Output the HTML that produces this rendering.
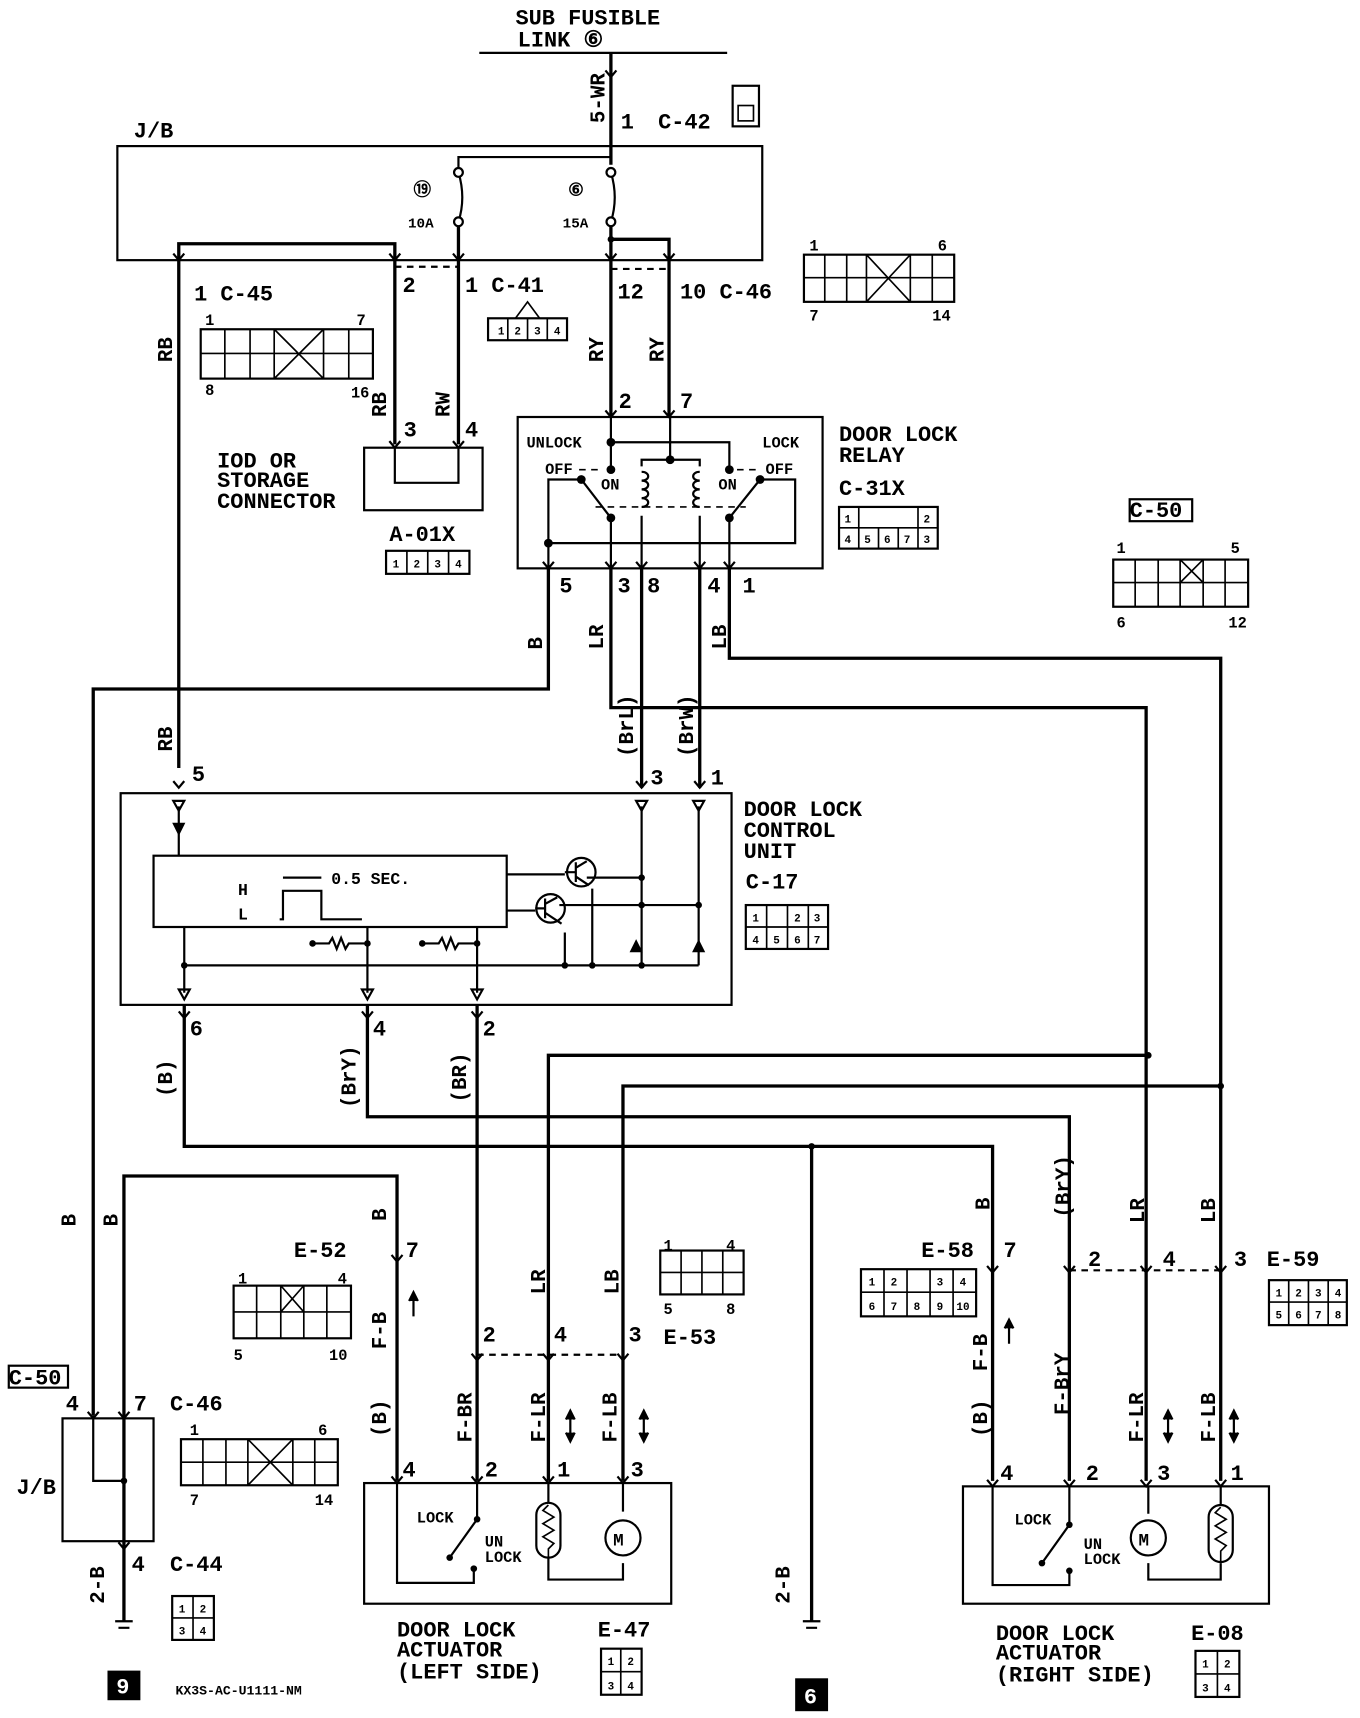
<!DOCTYPE html>
<html><head><meta charset="utf-8"><style>
html,body{margin:0;padding:0;background:#fff}
svg{display:block}
text{font-family:"Liberation Mono",monospace;font-weight:bold;fill:#000}
</style></head><body>
<svg width="1360" height="1718" viewBox="0 0 1240 1566" xmlns="http://www.w3.org/2000/svg">
<defs>
<g id="ar"><path d="M-5,-6 L0,0 L5,-6" fill="none" stroke="#000" stroke-width="2"/></g>
<g id="tri"><path d="M-5,-5 L5,-5 L0,4 Z" fill="none" stroke="#000" stroke-width="2"/></g>
</defs>
<g fill="none" stroke="#000" stroke-width="3">
<line x1="437" y1="48" x2="663" y2="48" stroke-width="2"/>
<line x1="557" y1="48" x2="557" y2="150"/>
<rect x="107" y="133" width="588" height="104" stroke-width="2"/>
<path d="M418,157 L418,143 L557,143" stroke-width="2"/>
<path d="M418,157 Q425,180 418,202 M557,157 Q564,180 557,202" stroke-width="2"/>
<circle cx="418" cy="157" r="4" fill="#fff" stroke-width="2"/><circle cx="418" cy="202" r="4" fill="#fff" stroke-width="2"/>
<circle cx="557" cy="157" r="4" fill="#fff" stroke-width="2"/><circle cx="557" cy="202" r="4" fill="#fff" stroke-width="2"/>
<path d="M557,206 L557,380 M557,218 L610,218 L610,380" />
<path d="M163,700 L163,222 L360,222 L360,405" />
<path d="M418,206 L418,405" />
<line x1="360" y1="243" x2="418" y2="243" stroke-dasharray="6,5" stroke-width="2"/>
<line x1="557" y1="245" x2="610" y2="245" stroke-dasharray="6,5" stroke-width="2"/>
<rect x="332" y="408" width="108" height="57" stroke-width="2"/>
<path d="M360,408 L360,440 L418,440 L418,408" stroke-width="2"/>
<rect x="472" y="380" width="278" height="138" stroke-width="2"/>
<path d="M557,380 L557,428 M557,403 L665,403 L665,428 M611,380 L611,419 M585,425 L585,419 L638,419 L638,425" stroke-width="2"/>
<path d="M585,430 c8,0 8,8 0,8 c8,0 8,8 0,8 c8,0 8,8 0,8 c8,0 8,8 0,8 M585,470 L585,518" stroke-width="2"/>
<path d="M638,430 c-8,0 -8,8 0,8 c-8,0 -8,8 0,8 c-8,0 -8,8 0,8 c-8,0 -8,8 0,8 M638,470 L638,518" stroke-width="2"/>
<path d="M500,518 L500,437 L530,437 L557,472 L557,518" stroke-width="2"/>
<path d="M500,495 L725,495 L725,437 L693,437 L665,472 L665,518" stroke-width="2"/>
<path d="M543,462 L680,462 M528,428 L550,428 M672,428 L693,428" stroke-dasharray="6,5" stroke-width="1.5"/>
<path d="M500,518 L500,628 L85,628 L85,1290"/>
<path d="M557,518 L557,645 L1045,645 L1045,1350"/>
<path d="M585,518 L585,718"/>
<path d="M638,518 L638,718"/>
<path d="M665,518 L665,600 L1113,600 L1113,1350"/>
<rect x="110" y="723" width="557" height="193" stroke-width="2"/>
<rect x="140" y="780" width="322" height="65" stroke-width="2"/>
<path d="M163,735 L163,780 M168,845 L168,905 M168,880 L637,880" stroke-width="2"/>
<path d="M585,735 L585,880 M637,735 L637,880" stroke-width="2"/>
<path d="M462,797 L515,797 M462,830 L488,830 M540,810 L540,880 M515,850 L515,880 M535,800 L585,800 M510,825 L637,825" stroke-width="2"/>
<circle cx="530" cy="795" r="13" stroke-width="2"/><circle cx="502" cy="828" r="13" stroke-width="2"/>
<path d="M525,786 V804 M515,795 H525 M525,791 L535,785 M525,799 L537,807 M497,819 V837 M488,828 H497 M497,824 L508,818 M497,832 L512,842" stroke-width="2"/>
<path d="M335,845 L335,905 M435,845 L435,905 M285,860 L300,860 l3,-5 l4,10 l4,-10 l4,10 l3,-5 L335,860 M385,860 L400,860 l3,-5 l4,10 l4,-10 l4,10 l3,-5 L435,860" stroke-width="2"/>
<path d="M255,838 L258,838 L258,812 L293,812 L293,838 L330,838 M258,800 L293,800" stroke-width="2"/>
<path d="M168,916 L168,1045 L905,1045 L905,1350"/>
<path d="M740,1045 L740,1478"/>
<path d="M335,916 L335,1018 L975,1018 L975,1350"/>
<path d="M435,916 L435,1350"/>
<path d="M500,1350 L500,962 L1047,962"/>
<path d="M568,1350 L568,990 L1113,990"/>
<path d="M362,1350 L362,1072 L113,1072 L113,1478"/>
<line x1="435" y1="1235" x2="568" y2="1235" stroke-dasharray="6,5" stroke-width="2"/>
<line x1="975" y1="1158" x2="1113" y2="1158" stroke-dasharray="6,5" stroke-width="2"/>
<rect x="57" y="1293" width="83" height="112" stroke-width="2"/>
<path d="M85,1290 L85,1350 L113,1350" stroke-width="2"/>
<rect x="332" y="1352" width="280" height="110" stroke-width="2"/>
<path d="M362,1352 L362,1443 L432,1443 L432,1430 M435,1352 L435,1385 L410,1420 M500,1352 L500,1370 M500,1420 L500,1440 L568,1440 L568,1425 M568,1352 L568,1378" stroke-width="2"/>
<rect x="489" y="1370" width="22" height="50" rx="11" stroke-width="2"/>
<path d="M500,1372 l-5,5 l10,6 l-10,6 l10,6 l-10,6 l10,6 l-5,5 V1420" stroke-width="1.5"/>
<circle cx="568" cy="1402" r="16" stroke-width="2"/>
<rect x="878" y="1355" width="279" height="107" stroke-width="2"/>
<path d="M905,1355 L905,1445 L975,1445 L975,1432 M975,1355 L975,1390 L950,1425 M1047,1355 L1047,1380 M1047,1425 L1047,1440 L1113,1440 L1113,1425 M1113,1355 L1113,1372" stroke-width="2"/>
<rect x="1102" y="1372" width="22" height="52" rx="11" stroke-width="2"/>
<path d="M1113,1374 l-5,5 l10,6 l-10,6 l10,6 l-10,6 l10,6 l-5,5 V1424" stroke-width="1.5"/>
<circle cx="1047" cy="1402" r="16" stroke-width="2"/>
<path d="M105,1478 L121,1478 M108,1484 L118,1484 M732,1478 L748,1478 M735,1484 L745,1484" stroke-width="2"/>
<rect x="183" y="300" width="157" height="45" stroke-width="2"/><path d="M183,322 H340 M205,300V345 M228,300V345 M250,300V345 M295,300V345 M318,300V345 M250,300 L295,345 M295,300 L250,345" stroke-width="1.5"/>
<rect x="445" y="290" width="72" height="20" stroke-width="2"/><path d="M463,290V310 M481,290V310 M499,290V310 M470,290 L481,275 L492,290" stroke-width="1.5"/>
<rect x="733" y="232" width="137" height="43" stroke-width="2"/><path d="M733,253 H870 M752,232V275 M772,232V275 M790,232V275 M830,232V275 M850,232V275 M790,232 L830,275 M830,232 L790,275" stroke-width="1.5"/>
<rect x="352" y="502" width="76" height="21" stroke-width="2"/><path d="M371,502V523 M390,502V523 M409,502V523" stroke-width="1.5"/>
<rect x="765" y="462" width="90" height="38" stroke-width="2"/><path d="M765,481 H855 M783,462V500 M801,481V500 M819,481V500 M837,462V500" stroke-width="1.5"/>
<rect x="668" y="78" width="24" height="37" stroke-width="2"/><rect x="673" y="96" width="14" height="14" stroke-width="1.5"/>
<rect x="1030" y="455" width="57" height="20" stroke-width="2"/>
<rect x="1015" y="510" width="123" height="43" stroke-width="2"/><path d="M1015,531H1138 M1035,510V553 M1056,510V553 M1076,510V553 M1097,510V553 M1117,510V553 M1076,510 L1097,531 M1097,510 L1076,531" stroke-width="1.5"/>
<rect x="680" y="825" width="75" height="40" stroke-width="2"/><path d="M680,845H755 M699,825V865 M718,825V865 M737,825V865" stroke-width="1.5"/>
<rect x="213" y="1172" width="107" height="48" stroke-width="2"/><path d="M213,1196H320 M234,1172V1220 M256,1172V1220 M277,1172V1220 M298,1172V1220 M256,1172 L277,1196 M277,1172 L256,1196" stroke-width="1.5"/>
<rect x="602" y="1140" width="76" height="40" stroke-width="2"/><path d="M602,1160H678 M621,1140V1180 M640,1140V1180 M659,1140V1180" stroke-width="1.5"/>
<rect x="165" y="1312" width="143" height="42" stroke-width="2"/><path d="M165,1333H308 M185,1312V1354 M206,1312V1354 M226,1312V1354 M267,1312V1354 M287,1312V1354 M226,1312 L267,1354 M267,1312 L226,1354" stroke-width="1.5"/>
<rect x="8" y="1245" width="54" height="20" stroke-width="2"/>
<rect x="157" y="1455" width="38" height="40" stroke-width="2"/><path d="M157,1475H195 M176,1455V1495" stroke-width="1.5"/>
<rect x="785" y="1157" width="105" height="43" stroke-width="2"/><path d="M785,1178H890 M806,1157V1200 M827,1157V1200 M848,1157V1200 M869,1157V1200" stroke-width="1.5"/>
<rect x="1157" y="1167" width="71" height="41" stroke-width="2"/><path d="M1157,1187H1228 M1175,1167V1208 M1193,1167V1208 M1211,1167V1208" stroke-width="1.5"/>
<rect x="548" y="1503" width="37" height="42" stroke-width="2"/><path d="M548,1524H585 M566,1503V1545" stroke-width="1.5"/>
<rect x="1090" y="1505" width="40" height="42" stroke-width="2"/><path d="M1090,1526H1130 M1110,1505V1547" stroke-width="1.5"/>
</g>
<g fill="#000">
<circle cx="557" cy="218" r="3"/><circle cx="557" cy="403" r="4"/><circle cx="611" cy="419" r="4"/>
<circle cx="557" cy="428" r="4"/><circle cx="665" cy="428" r="4"/><circle cx="530" cy="437" r="4"/><circle cx="693" cy="437" r="4"/>
<circle cx="557" cy="472" r="4"/><circle cx="665" cy="472" r="4"/><circle cx="500" cy="495" r="4"/>
<circle cx="168" cy="880" r="3"/><circle cx="335" cy="860" r="3"/><circle cx="435" cy="860" r="3"/><circle cx="285" cy="860" r="3"/><circle cx="385" cy="860" r="3"/>
<circle cx="515" cy="880" r="3"/><circle cx="540" cy="880" r="3"/><circle cx="585" cy="880" r="3"/><circle cx="585" cy="800" r="3"/><circle cx="585" cy="825" r="3"/><circle cx="637" cy="825" r="3"/>
<circle cx="740" cy="1045" r="3"/><circle cx="1047" cy="962" r="3"/><circle cx="1113" cy="990" r="3"/><circle cx="113" cy="1350" r="3"/>
<circle cx="432" cy="1430" r="3"/><circle cx="410" cy="1420" r="3"/><circle cx="435" cy="1385" r="3"/>
<circle cx="975" cy="1432" r="3"/><circle cx="950" cy="1425" r="3"/><circle cx="975" cy="1390" r="3"/>
<path d="M157,750 L169,750 L163,762 Z"/><path d="M574,868 L586,868 L580,856 Z"/><path d="M631,868 L643,868 L637,856 Z"/>
<rect x="98" y="1523" width="30" height="27"/><rect x="725" y="1530" width="30" height="30"/>
</g>
<g>
<use href="#ar" x="557" y="70"/><use href="#ar" x="557" y="237"/><use href="#ar" x="163" y="237"/><use href="#ar" x="360" y="237"/><use href="#ar" x="418" y="237"/><use href="#ar" x="610" y="237"/>
<use href="#ar" x="360" y="408"/><use href="#ar" x="418" y="408"/><use href="#ar" x="557" y="380"/><use href="#ar" x="610" y="380"/>
<use href="#ar" x="500" y="518"/><use href="#ar" x="557" y="518"/><use href="#ar" x="585" y="518"/><use href="#ar" x="638" y="518"/><use href="#ar" x="665" y="518"/>
<use href="#ar" x="163" y="718"/><use href="#ar" x="585" y="718"/><use href="#ar" x="638" y="718"/>
<use href="#tri" x="163" y="735"/><use href="#tri" x="585" y="735"/><use href="#tri" x="637" y="735"/><use href="#tri" x="168" y="907"/><use href="#tri" x="335" y="907"/><use href="#tri" x="435" y="907"/>
<use href="#ar" x="168" y="928"/><use href="#ar" x="335" y="928"/><use href="#ar" x="435" y="928"/>
<use href="#ar" x="362" y="1150"/><use href="#ar" x="435" y="1240"/><use href="#ar" x="500" y="1240"/><use href="#ar" x="568" y="1240"/>
<use href="#ar" x="362" y="1352"/><use href="#ar" x="435" y="1352"/><use href="#ar" x="500" y="1352"/><use href="#ar" x="568" y="1352"/>
<use href="#ar" x="905" y="1160"/><use href="#ar" x="975" y="1160"/><use href="#ar" x="1045" y="1160"/><use href="#ar" x="1113" y="1160"/>
<use href="#ar" x="905" y="1355"/><use href="#ar" x="975" y="1355"/><use href="#ar" x="1045" y="1355"/><use href="#ar" x="1113" y="1355"/>
<use href="#ar" x="85" y="1293"/><use href="#ar" x="113" y="1293"/><use href="#ar" x="113" y="1412"/>
</g>
<g font-size="20">
<text x="470" y="22">SUB FUSIBLE</text><text x="472" y="42">LINK ⑥</text>
<text x="566" y="117">1</text><text x="600" y="117">C-42</text><text x="122" y="125">J/B</text>
<text x="377" y="178" font-size="16">⑲</text><text x="372" y="207" font-size="13">10A</text>
<text x="518" y="178" font-size="16">⑥</text><text x="513" y="207" font-size="13">15A</text>
<text x="177" y="274">1 C-45</text><text x="367" y="266">2</text><text x="424" y="266">1 C-41</text>
<text x="563" y="272">12</text><text x="620" y="272">10 C-46</text>
<text x="198" y="426">IOD OR</text><text x="198" y="444">STORAGE</text><text x="198" y="463">CONNECTOR</text>
<text x="368" y="398">3</text><text x="424" y="398">4</text><text x="355" y="493">A-01X</text>
<text x="564" y="372">2</text><text x="620" y="372">7</text>
<text x="480" y="408" font-size="14">UNLOCK</text><text x="695" y="408" font-size="14">LOCK</text>
<text x="497" y="432" font-size="14">OFF</text><text x="548" y="446" font-size="14">ON</text><text x="655" y="446" font-size="14">ON</text><text x="698" y="432" font-size="14">OFF</text>
<text x="765" y="402">DOOR LOCK</text><text x="765" y="421">RELAY</text><text x="765" y="451">C-31X</text>
<text x="1030" y="471">C-50</text><text x="1018" y="504" font-size="14">1</text><text x="1122" y="504" font-size="14">5</text><text x="1018" y="572" font-size="14">6</text><text x="1120" y="572" font-size="14">12</text>
<text x="738" y="228" font-size="14">1</text><text x="855" y="228" font-size="14">6</text><text x="738" y="292" font-size="14">7</text><text x="850" y="292" font-size="14">14</text>
<text x="187" y="296" font-size="14">1</text><text x="325" y="296" font-size="14">7</text><text x="187" y="360" font-size="14">8</text><text x="320" y="362" font-size="14">16</text>
<text x="510" y="540">5</text><text x="563" y="540">3</text><text x="590" y="540">8</text><text x="645" y="540">4</text><text x="677" y="540">1</text>
<text x="175" y="712">5</text><text x="593" y="715">3</text><text x="648" y="715">1</text>
<text x="678" y="744">DOOR LOCK</text><text x="678" y="763">CONTROL</text><text x="678" y="782">UNIT</text><text x="680" y="810">C-17</text>
<text x="217" y="816" font-size="15">H</text><text x="217" y="838" font-size="15">L</text><text x="302" y="806" font-size="15">0.5 SEC.</text>
<text x="173" y="944">6</text><text x="340" y="944">4</text><text x="440" y="944">2</text>
<text x="370" y="1146">7</text><text x="440" y="1223">2</text><text x="505" y="1223">4</text><text x="573" y="1223">3</text><text x="605" y="1225">E-53</text>
<text x="605" y="1140" font-size="14">1</text><text x="662" y="1140" font-size="14">4</text><text x="605" y="1198" font-size="14">5</text><text x="662" y="1198" font-size="14">8</text>
<text x="268" y="1146">E-52</text><text x="217" y="1170" font-size="14">1</text><text x="308" y="1170" font-size="14">4</text><text x="213" y="1240" font-size="14">5</text><text x="300" y="1240" font-size="14">10</text>
<text x="367" y="1346">4</text><text x="442" y="1346">2</text><text x="508" y="1346">1</text><text x="575" y="1346">3</text>
<text x="380" y="1388" font-size="14">LOCK</text><text x="442" y="1410" font-size="14">UN</text><text x="442" y="1424" font-size="14">LOCK</text><text x="559" y="1409" font-size="16">M</text>
<text x="362" y="1492">DOOR LOCK</text><text x="362" y="1510">ACTUATOR</text><text x="362" y="1530">(LEFT SIDE)</text><text x="545" y="1492">E-47</text>
<text x="60" y="1286">4</text><text x="122" y="1286">7</text><text x="155" y="1286">C-46</text><text x="15" y="1362">J/B</text>
<text x="173" y="1308" font-size="14">1</text><text x="290" y="1308" font-size="14">6</text><text x="173" y="1372" font-size="14">7</text><text x="287" y="1372" font-size="14">14</text>
<text x="8" y="1262">C-50</text><text x="120" y="1432">4</text><text x="155" y="1432">C-44</text>
<text x="106" y="1544" style="fill:#fff">9</text><text x="733" y="1553" style="fill:#fff">6</text>
<text x="160" y="1545" font-size="12">KX3S-AC-U1111-NM</text>
<text x="915" y="1146">7</text><text x="840" y="1146">E-58</text><text x="992" y="1154">2</text><text x="1060" y="1154">4</text><text x="1125" y="1154">3</text><text x="1155" y="1154">E-59</text>
<text x="912" y="1349">4</text><text x="990" y="1349">2</text><text x="1055" y="1349">3</text><text x="1122" y="1349">1</text>
<text x="925" y="1390" font-size="14">LOCK</text><text x="988" y="1412" font-size="14">UN</text><text x="988" y="1426" font-size="14">LOCK</text><text x="1038" y="1409" font-size="16">M</text>
<text x="908" y="1495">DOOR LOCK</text><text x="908" y="1513">ACTUATOR</text><text x="908" y="1533">(RIGHT SIDE)</text><text x="1086" y="1495">E-08</text>
</g>
<g font-size="10">
<text x="454" y="305">1</text><text x="469" y="305">2</text><text x="487" y="305">3</text><text x="505" y="305">4</text>
<text x="358" y="517">1</text><text x="377" y="517">2</text><text x="396" y="517">3</text><text x="415" y="517">4</text>
<text x="770" y="476">1</text><text x="842" y="476">2</text><text x="842" y="495">3</text><text x="770" y="495">4</text><text x="788" y="495">5</text><text x="806" y="495">6</text><text x="824" y="495">7</text>
<text x="686" y="840">1</text><text x="724" y="840">2</text><text x="742" y="840">3</text><text x="686" y="860">4</text><text x="705" y="860">5</text><text x="724" y="860">6</text><text x="742" y="860">7</text>
<text x="163" y="1470">1</text><text x="182" y="1470">2</text><text x="163" y="1490">3</text><text x="182" y="1490">4</text>
<text x="554" y="1518">1</text><text x="572" y="1518">2</text><text x="554" y="1540">3</text><text x="572" y="1540">4</text>
<text x="1096" y="1520">1</text><text x="1116" y="1520">2</text><text x="1096" y="1542">3</text><text x="1116" y="1542">4</text>
<text x="792" y="1172">1</text><text x="812" y="1172">2</text><text x="854" y="1172">3</text><text x="875" y="1172">4</text>
<text x="792" y="1194">6</text><text x="812" y="1194">7</text><text x="833" y="1194">8</text><text x="854" y="1194">9</text><text x="872" y="1194">10</text>
<text x="1163" y="1182">1</text><text x="1181" y="1182">2</text><text x="1199" y="1182">3</text><text x="1217" y="1182">4</text>
<text x="1163" y="1202">5</text><text x="1181" y="1202">6</text><text x="1199" y="1202">7</text><text x="1217" y="1202">8</text>
</g>
<g font-size="19">
<text transform="translate(551,112) rotate(-90)">5-WR</text>
<text transform="translate(157,330) rotate(-90)">RB</text>
<text transform="translate(352,380) rotate(-90)">RB</text><text transform="translate(410,380) rotate(-90)">RW</text>
<text transform="translate(550,330) rotate(-90)">RY</text><text transform="translate(605,330) rotate(-90)">RY</text>
<text transform="translate(494,592) rotate(-90)">B</text><text transform="translate(550,592) rotate(-90)">LR</text><text transform="translate(662,592) rotate(-90)">LB</text>
<text transform="translate(157,685) rotate(-90)">RB</text>
<text transform="translate(577,690) rotate(-90)">(BrL)</text><text transform="translate(632,690) rotate(-90)">(BrW)</text>
<text transform="translate(157,1000) rotate(-90)">(B)</text><text transform="translate(324,1010) rotate(-90)">(BrY)</text><text transform="translate(425,1005) rotate(-90)">(BR)</text>
<text transform="translate(69,1118) rotate(-90)">B</text><text transform="translate(107,1118) rotate(-90)">B</text><text transform="translate(352,1113) rotate(-90)">B</text>
<text transform="translate(352,1230) rotate(-90)">F-B</text><text transform="translate(497,1180) rotate(-90)">LR</text><text transform="translate(564,1180) rotate(-90)">LB</text>
<text transform="translate(352,1310) rotate(-90)">(B)</text><text transform="translate(430,1315) rotate(-90)">F-BR</text><text transform="translate(497,1315) rotate(-90)">F-LR</text><text transform="translate(562,1315) rotate(-90)">F-LB</text>
<text transform="translate(95,1462) rotate(-90)">2-B</text><text transform="translate(720,1462) rotate(-90)">2-B</text>
<text transform="translate(902,1103) rotate(-90)">B</text><text transform="translate(975,1110) rotate(-90)">(BrY)</text><text transform="translate(1043,1115) rotate(-90)">LR</text><text transform="translate(1108,1115) rotate(-90)">LB</text>
<text transform="translate(900,1250) rotate(-90)">F-B</text><text transform="translate(900,1310) rotate(-90)">(B)</text><text transform="translate(974,1290) rotate(-90)">F-BrY</text><text transform="translate(1042,1315) rotate(-90)">F-LR</text><text transform="translate(1108,1315) rotate(-90)">F-LB</text>
</g>
<g stroke="#000" stroke-width="2" fill="#000">
<path d="M377,1200 V1180 M373,1186 L377,1178 L381,1186"/>
<path d="M920,1225 V1205 M916,1211 L920,1203 L924,1211"/>
<path d="M520,1290 V1310 M516,1294 L520,1286 L524,1294 M516,1306 L520,1314 L524,1306"/>
<path d="M587,1290 V1310 M583,1294 L587,1286 L591,1294 M583,1306 L587,1314 L591,1306"/>
<path d="M1065,1290 V1310 M1061,1294 L1065,1286 L1069,1294 M1061,1306 L1065,1314 L1069,1306"/>
<path d="M1125,1290 V1310 M1121,1294 L1125,1286 L1129,1294 M1121,1306 L1125,1314 L1129,1306"/>
</g>
</svg>
</body></html>
